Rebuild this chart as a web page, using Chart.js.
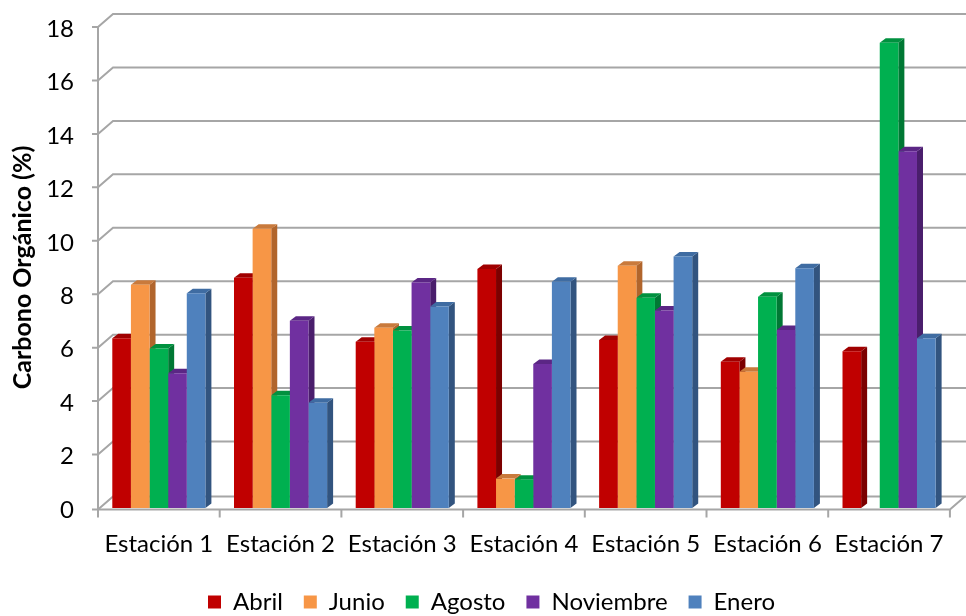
<!DOCTYPE html>
<html>
<head>
<meta charset="utf-8">
<script src="https://cdn.jsdelivr.net/npm/chart.js@4.4.1/dist/chart.umd.min.js"></script>
<style>
  html, body { margin: 0; padding: 0; background: #fff; }
</style>
</head>
<body>
<canvas id="chart" width="966" height="616"></canvas>
<script>
const estaciones = ['Estación 1', 'Estación 2', 'Estación 3', 'Estación 4', 'Estación 5', 'Estación 6', 'Estación 7'];
const abril = [6.35, 8.62, 6.22, 8.94, 6.29, 5.47, 5.87];
const junio = [8.35, 10.45, 6.75, 1.10, 9.07, 5.10, null];
const agosto = [5.97, 4.22, 6.64, 1.06, 7.87, 7.91, 17.41];
const noviembre = [5.04, 7.01, 8.44, 5.39, 7.39, 6.66, 13.35];
const enero = [8.04, 3.94, 7.54, 8.47, 9.41, 8.97, 6.35];
const yTicks = [0, 2, 4, 6, 8, 10, 12, 14, 16, 18];

// front, top and side colours of each series
const series = [
  { label: 'Abril', data: abril, front: '#C00000', top: '#A00000', side: '#7C0000' },
  { label: 'Junio', data: junio, front: '#F79646', top: '#C97A3C', side: '#B1652C' },
  { label: 'Agosto', data: agosto, front: '#00B050', top: '#00913F', side: '#007834' },
  { label: 'Noviembre', data: noviembre, front: '#7030A0', top: '#5B2685', side: '#4A1E6C' },
  { label: 'Enero', data: enero, front: '#4F81BD', top: '#3F6CA2', side: '#32547F' }
];

const FONT = 'Lato, "Open Sans", sans-serif';
const GRID = '#A6A6A6';
const WALL_DX = 15, WALL_DY = 13;   // back wall offset
const BAR_DX = 6, BAR_DY = 4.5;     // bar depth

// walls, grid and the sides/tops of the bars, drawn behind the front faces
const box3d = {
  id: 'box3d',
  afterLayout(chart) {
    const lg = chart.legend;
    const pad = chart.options.plugins.legend.labels.padding;
    const w = lg.right - lg.left;
    lg.left = 208 - pad;
    lg.right = lg.left + w;
    lg.top += 8;
    lg.bottom += 8;
  },
  beforeDatasetsDraw(chart) {
    const { ctx, chartArea: a, scales: { x, y } } = chart;
    const floor = a.bottom + 1.5;
    ctx.save();
    ctx.strokeStyle = GRID;
    ctx.lineWidth = 2;
    ctx.lineCap = 'butt';

    yTicks.forEach(v => {
      const py = v === 0 ? floor : y.getPixelForValue(v);
      ctx.beginPath();
      ctx.moveTo(a.left, py);
      ctx.lineTo(a.left + WALL_DX, py - WALL_DY);
      ctx.lineTo(chart.width, py - WALL_DY);
      ctx.moveTo(a.left - 6, py);
      ctx.lineTo(a.left, py);
      ctx.stroke();
    });

    // front axis and floor edge
    ctx.beginPath();
    ctx.moveTo(a.left, y.getPixelForValue(18));
    ctx.lineTo(a.left, floor + 1);
    ctx.moveTo(a.left, floor);
    ctx.lineTo(a.right, floor);
    ctx.lineTo(a.right + WALL_DX, floor - WALL_DY);
    ctx.stroke();

    // category separators below the floor
    const half = (x.getPixelForValue(1) - x.getPixelForValue(0)) / 2;
    ctx.beginPath();
    for (let i = 0; i <= estaciones.length; i++) {
      const px = i < estaciones.length ? x.getPixelForValue(i) - half : x.getPixelForValue(i - 1) + half;
      ctx.moveTo(px, floor);
      ctx.lineTo(px, floor + 8);
    }
    ctx.stroke();

    // bar depth
    chart.data.datasets.forEach((ds, di) => {
      const meta = chart.getDatasetMeta(di);
      meta.data.forEach((el, i) => {
        if (ds.data[i] == null) return;
        const { x: bx, y: by, base, width } = el.getProps(['x', 'y', 'base', 'width'], true);
        const l = bx - width / 2, r = bx + width / 2;
        ctx.fillStyle = ds.sideColor;
        ctx.beginPath();
        ctx.moveTo(r, by);
        ctx.lineTo(r + BAR_DX, by - BAR_DY);
        ctx.lineTo(r + BAR_DX, base - BAR_DY);
        ctx.lineTo(r, base);
        ctx.closePath();
        ctx.fill();
        ctx.fillStyle = ds.topColor;
        ctx.beginPath();
        ctx.moveTo(l, by);
        ctx.lineTo(l + BAR_DX, by - BAR_DY);
        ctx.lineTo(r + BAR_DX, by - BAR_DY);
        ctx.lineTo(r, by);
        ctx.closePath();
        ctx.fill();
      });
    });
    ctx.restore();
  }
};

new Chart(document.getElementById('chart'), {
  type: 'bar',
  data: {
    labels: estaciones,
    datasets: series.map(s => ({
      label: s.label,
      data: s.data,
      backgroundColor: s.front,
      topColor: s.top,
      sideColor: s.side,
      borderWidth: 0,
      barPercentage: 1,
      categoryPercentage: 0.765
    }))
  },
  options: {
    responsive: false,
    animation: false,
    layout: { padding: { left: 3, top: 27, right: 7, bottom: 0 } },
    scales: {
      x: {
        grid: { display: false, drawTicks: false },
        border: { display: false },
        ticks: { color: '#000', font: { family: FONT, size: 24 }, padding: 22, maxRotation: 0 },
        afterFit: s => { s.height = 53; }
      },
      y: {
        min: 0,
        max: 18,
        grid: { display: false, drawTicks: false },
        border: { display: false },
        ticks: { stepSize: 2, color: '#000', font: { family: FONT, size: 24 }, padding: 24, labelOffset: 2 },
        title: {
          display: true,
          text: 'Carbono Orgánico (%)',
          color: '#000',
          font: { family: FONT, size: 25, weight: 'bold' },
          padding: { top: 5, bottom: 0 }
        },
        afterFit: s => {
          s.width = 95;
          s.paddingTop = 0;
          s.paddingBottom = 0;
        }
      }
    },
    plugins: {
      legend: {
        position: 'bottom',
        align: 'start',
        labels: {
          color: '#000',
          font: { family: FONT, size: 24 },
          boxWidth: 13,
          boxHeight: 13,
          padding: 21
        }
      },
      tooltip: { enabled: false }
    }
  },
  plugins: [box3d]
});
</script>
</body>
</html>
